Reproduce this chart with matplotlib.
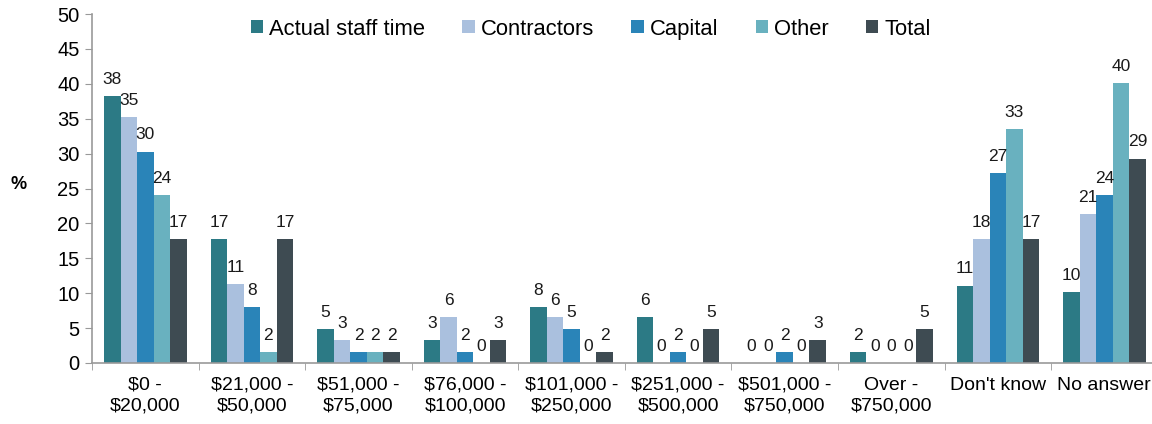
import numpy as np
import matplotlib
matplotlib.use("Agg")
import matplotlib.pyplot as plt

plt.rcParams['font.family'] = ['Liberation Sans', 'DejaVu Sans']

# categories on the x axis
categories = ["$0 -\n$20,000", "$21,000 -\n$50,000", "$51,000 -\n$75,000",
              "$76,000 -\n$100,000", "$101,000 -\n$250,000", "$251,000 -\n$500,000",
              "$501,000 -\n$750,000", "Over -\n$750,000", "Don't know", "No answer"]

series_names = ["Actual staff time", "Contractors", "Capital", "Other", "Total"]

# bar heights (%)
staff_time  = [38.2, 17.7, 4.9, 3.3, 8.0, 6.6, 0, 1.6, 11.1, 10.2]
contractors = [35.3, 11.3, 3.3, 6.6, 6.6, 0, 0, 0, 17.7, 21.3]
capital     = [30.3, 8.0, 1.6, 1.6, 4.9, 1.6, 1.6, 0, 27.2, 24.1]
other       = [24.0, 1.6, 1.6, 0, 0, 0, 0, 0, 33.5, 40.1]
total       = [17.7, 17.7, 1.6, 3.3, 1.6, 4.9, 3.3, 4.9, 17.7, 29.3]

# the labels printed above the bars
staff_lab  = ["38", "17", "5", "3", "8", "6", "0", "2", "11", "10"]
contr_lab  = ["35", "11", "3", "6", "6", "0", "0", "0", "18", "21"]
cap_lab    = ["30", "8", "2", "2", "5", "2", "2", "0", "27", "24"]
other_lab  = ["24", "2", "2", "0", "0", "0", "0", "0", "33", "40"]
total_lab  = ["17", "17", "2", "3", "2", "5", "3", "5", "17", "29"]

colors = ["#2c7a85", "#aac0de", "#2a84b8", "#69b1bf", "#3e4b52"]

values = [staff_time, contractors, capital, other, total]
labels = [staff_lab, contr_lab, cap_lab, other_lab, total_lab]

fig = plt.figure(figsize=(11.52, 4.24), dpi=100)
ax = fig.add_axes([0.0799, 0.1439, 0.925, 0.823])

x = np.arange(len(categories))
w = 0.155
for i in range(5):
    pos = x + (i - 2) * w
    ax.bar(pos, values[i], w, color=colors[i], label=series_names[i])
    for px, v, t in zip(pos, values[i], labels[i]):
        ax.annotate(t, (px, v), xytext=(0, 6.5), textcoords="offset points",
                    ha="center", va="bottom", fontsize=12.5, color="#1a1a1a")

ax.set_xlim(-0.5, len(categories) - 0.5)
ax.set_ylim(0, 50)
ax.set_yticks(range(0, 51, 5))
ax.set_xticks(x)
ax.set_xticklabels(categories, fontsize=14, linespacing=1.3)
ax.set_xticks(np.arange(-0.5, len(categories), 1), minor=True)
ax.tick_params(axis="x", which="major", length=0, pad=10)
ax.tick_params(axis="x", which="minor", length=5, color="#999999", direction="out")
ax.tick_params(axis="y", labelsize=14.5, length=5, color="#999999", pad=4)

for s in ["top", "right"]:
    ax.spines[s].set_visible(False)
for s in ["left", "bottom"]:
    ax.spines[s].set_color("#999999")
    ax.spines[s].set_linewidth(1.2)

fig.text(0.016, 0.566, "%", fontsize=13, fontweight="bold", ha="center", va="center")

ax.legend(loc="center", bbox_to_anchor=(0.468, 0.957), ncol=5, frameon=False,
          fontsize=15.8, handlelength=0.56, handleheight=0.56, handletextpad=0.28,
          columnspacing=1.7)

fig.savefig("out.png", dpi=100)
